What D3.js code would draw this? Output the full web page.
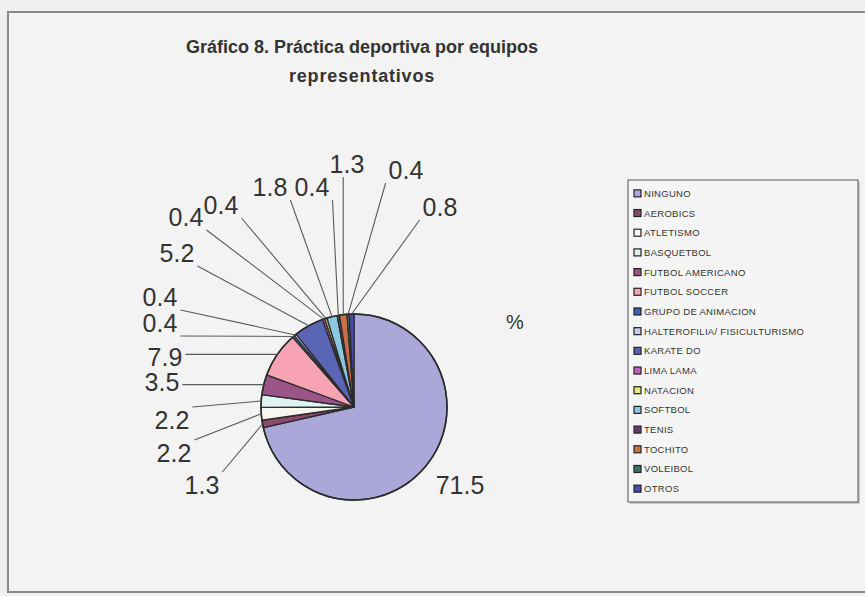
<!DOCTYPE html>
<html>
<head>
<meta charset="utf-8">
<script src="https://cdn.jsdelivr.net/npm/d3@7"></script>
<style>
    body { margin: 0; background: #efefef; }
    svg { display: block; font-family: Arial, "Liberation Sans", sans-serif; }
</style>
</head>
<body>
<div id="window"></div>
<script>
// chart data
let categories = ["NINGUNO", "AEROBICS", "ATLETISMO", "BASQUETBOL", "FUTBOL AMERICANO",
    "FUTBOL SOCCER", "GRUPO DE ANIMACION", "HALTEROFILIA/ FISICULTURISMO", "KARATE DO",
    "LIMA LAMA", "NATACION", "SOFTBOL", "TENIS", "TOCHITO", "VOLEIBOL", "OTROS"];
let values = [71.5, 1.3, 2.2, 2.2, 3.5, 7.9, 0.4, 0.4, 5.2, 0.4, 0.4, 1.8, 0.4, 1.3, 0.4, 0.8];
let colors = ["#aba7d9", "#8a4a6e", "#f7f7f0", "#dff3f3", "#9b5488", "#f7a3b3", "#3f63a8", "#c9c9ee",
    "#5b65b5", "#c060c0", "#e8e880", "#8cc9e0", "#6a3a6a", "#c8704a", "#3a7070", "#4a4ab0"];
// the data labels were dragged by hand, offsets from the pie centre
let labelOffsets = [[106, 78], [-152, 78], [-180, 46], [-182, 13], [-192, -25], [-189, -50],
    [-194, -84], [-194, -110], [-177, -154], [-168, -190], [-133, -202], [-84, -220],
    [-42, -220], [-7, -243], [52, -237], [86, -200]];

let w = 865, h = 596;
let svg = d3.select("#window")
    .append("svg")
    .attr("width", w)
    .attr("height", h);

// outer chart frame
svg.append("rect")
    .attr("x", 8).attr("y", 12)
    .attr("width", 880).attr("height", 580)
    .attr("fill", "#f3f3f3")
    .attr("stroke", "#8a8a8a")
    .attr("stroke-width", 2);

// title
let title = svg.append("text")
    .attr("text-anchor", "middle")
    .attr("font-size", 18)
    .attr("font-weight", "bold")
    .attr("fill", "#333");
title.append("tspan").attr("x", 362).attr("y", 53).text("Gráfico 8. Práctica deportiva por equipos");
title.append("tspan").attr("x", 362).attr("y", 82).attr("letter-spacing", 0.8).text("representativos");

// pie
let cx = 354, cy = 407, r = 93;
let pie = d3.pie().sort(null).value(d => d)(values);
let arc = d3.arc().innerRadius(0).outerRadius(r);

let g = svg.append("g").attr("transform", "translate(" + cx + "," + cy + ")");
g.selectAll(".slice")
    .data(pie)
    .enter()
    .append("path")
    .attr("class", "slice")
    .attr("d", arc)
    .attr("fill", (d, i) => colors[i])
    .attr("stroke", "#2b2b2b")
    .attr("stroke-width", 1.3)
    .attr("stroke-linejoin", "round");
// darker rim
g.append("circle")
    .attr("r", r)
    .attr("fill", "none")
    .attr("stroke", "#2b2b2b")
    .attr("stroke-width", 1.6);

// data labels
let labels = svg.append("g").attr("font-size", 25).attr("fill", "#333");
pie.forEach(function (d, i) {
    let lx = cx + labelOffsets[i][0];
    let ly = cy + labelOffsets[i][1];
    let t = labels.append("text")
        .attr("x", lx)
        .attr("y", ly + 9)
        .attr("text-anchor", "middle")
        .text(d3.format(".1f")(values[i]));

    // leader line from the slice edge to the nearest side of the label
    let mid = (d.startAngle + d.endAngle) / 2;
    let px = cx + r * Math.sin(mid);
    let py = cy - r * Math.cos(mid);
    let b = t.node().getBBox();
    let pad = 3;
    let qx = Math.max(b.x - pad, Math.min(b.x + b.width + pad, px));
    let qy = Math.max(b.y + 4 - pad, Math.min(b.y + b.height - 4 + pad, py));
    if (Math.hypot(px - qx, py - qy) > 20) {
        svg.append("line")
            .attr("x1", qx).attr("y1", qy)
            .attr("x2", px).attr("y2", py)
            .attr("stroke", "#5a5a5a")
            .attr("stroke-width", 1.1);
    }
});

// series name
svg.append("text")
    .attr("x", 515).attr("y", 329)
    .attr("text-anchor", "middle")
    .attr("font-size", 20)
    .attr("fill", "#333")
    .text("%");

// legend
let lgX = 628, lgY = 180, lgW = 230, lgH = 322;
svg.append("rect")
    .attr("x", lgX + 2).attr("y", lgY + 2)
    .attr("width", lgW).attr("height", lgH)
    .attr("fill", "#c8c8c8");
svg.append("rect")
    .attr("x", lgX).attr("y", lgY)
    .attr("width", lgW).attr("height", lgH)
    .attr("fill", "#f5f5f5")
    .attr("stroke", "#555")
    .attr("stroke-width", 1);

let row = d3.scaleBand()
    .domain(categories)
    .range([lgY + 4, lgY + lgH - 3]);

let items = svg.selectAll(".legend_item")
    .data(categories)
    .enter()
    .append("g")
    .attr("class", "legend_item")
    .attr("transform", d => "translate(" + (lgX + 6) + "," + (row(d) + row.bandwidth() / 2) + ")");
items.append("rect")
    .attr("x", 0).attr("y", -4)
    .attr("width", 7).attr("height", 7)
    .attr("fill", (d, i) => colors[i])
    .attr("stroke", "#222")
    .attr("stroke-width", 1.2);
items.append("text")
    .attr("x", 10).attr("y", 3)
    .attr("font-size", 9.5)
    .attr("letter-spacing", 0.3)
    .attr("fill", "#333")
    .text(d => d);
</script>
</body>
</html>
